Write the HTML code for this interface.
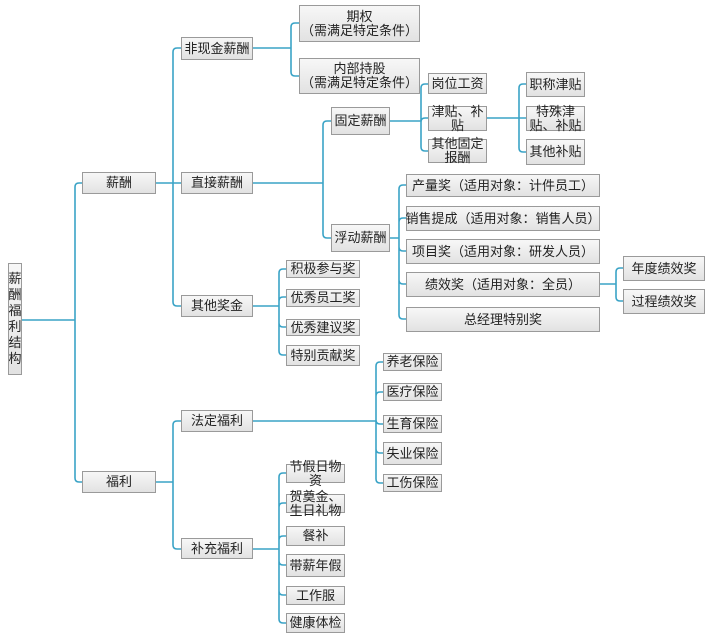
<!DOCTYPE html>
<html><head><meta charset="utf-8"><style>
body{margin:0;width:710px;height:637px;background:#fff;position:relative;overflow:hidden;font-family:"Liberation Sans","Noto Sans CJK SC",sans-serif;}
.b{position:absolute;box-sizing:border-box;border:1px solid #9a9a9a;background:linear-gradient(#f7f7f7,#e2e2e2);font-size:13px;color:#222;display:flex;align-items:center;justify-content:center;text-align:center;line-height:14px;overflow:visible;white-space:nowrap;}
svg{position:absolute;left:0;top:0;}
</style></head><body>
<svg id="s" width="710" height="637"></svg>
<div class="b" style="left:8px;top:263px;width:14px;height:112px;white-space:normal;line-height:16px;font-size:13px;padding:0">薪<br>酬<br>福<br>利<br>结<br>构</div>
<div class="b" style="left:82px;top:172px;width:74px;height:22px">薪酬</div>
<div class="b" style="left:82px;top:471px;width:74px;height:22px">福利</div>
<div class="b" style="left:181px;top:37px;width:72px;height:23px">非现金薪酬</div>
<div class="b" style="left:181px;top:172px;width:72px;height:22px">直接薪酬</div>
<div class="b" style="left:181px;top:295px;width:72px;height:22px">其他奖金</div>
<div class="b" style="left:181px;top:410px;width:72px;height:22px">法定福利</div>
<div class="b" style="left:181px;top:538px;width:72px;height:21px">补充福利</div>
<div class="b" style="left:299px;top:5px;width:121px;height:37px">期权<br>（需满足特定条件）</div>
<div class="b" style="left:299px;top:58px;width:121px;height:36px">内部持股<br>（需满足特定条件）</div>
<div class="b" style="left:331px;top:107px;width:59px;height:28px">固定薪酬</div>
<div class="b" style="left:331px;top:224px;width:59px;height:28px">浮动薪酬</div>
<div class="b" style="left:428px;top:73px;width:59px;height:21px">岗位工资</div>
<div class="b" style="left:428px;top:106px;width:59px;height:25px">津贴、补<br>贴</div>
<div class="b" style="left:428px;top:139px;width:59px;height:24px">其他固定<br>报酬</div>
<div class="b" style="left:526px;top:72px;width:59px;height:25px">职称津贴</div>
<div class="b" style="left:526px;top:106px;width:59px;height:25px">特殊津<br>贴、补贴</div>
<div class="b" style="left:526px;top:139px;width:59px;height:26px">其他补贴</div>
<div class="b" style="left:406px;top:174px;width:194px;height:23px">产量奖（适用对象：计件员工）</div>
<div class="b" style="left:406px;top:206px;width:194px;height:25px">销售提成（适用对象：销售人员）</div>
<div class="b" style="left:406px;top:239px;width:194px;height:25px">项目奖（适用对象：研发人员）</div>
<div class="b" style="left:406px;top:272px;width:194px;height:25px">绩效奖（适用对象：全员）</div>
<div class="b" style="left:406px;top:307px;width:194px;height:25px">总经理特别奖</div>
<div class="b" style="left:623px;top:256px;width:82px;height:25px">年度绩效奖</div>
<div class="b" style="left:623px;top:289px;width:82px;height:25px">过程绩效奖</div>
<div class="b" style="left:286px;top:260px;width:74px;height:18px">积极参与奖</div>
<div class="b" style="left:286px;top:289px;width:74px;height:18px">优秀员工奖</div>
<div class="b" style="left:286px;top:319px;width:74px;height:17px">优秀建议奖</div>
<div class="b" style="left:286px;top:345px;width:74px;height:21px">特别贡献奖</div>
<div class="b" style="left:383px;top:353px;width:59px;height:18px">养老保险</div>
<div class="b" style="left:383px;top:383px;width:59px;height:18px">医疗保险</div>
<div class="b" style="left:383px;top:415px;width:59px;height:18px">生育保险</div>
<div class="b" style="left:383px;top:442px;width:59px;height:23px">失业保险</div>
<div class="b" style="left:383px;top:474px;width:59px;height:18px">工伤保险</div>
<div class="b" style="left:286px;top:464px;width:59px;height:19px">节假日物<br>资</div>
<div class="b" style="left:286px;top:494px;width:59px;height:19px">贺奠金、<br>生日礼物</div>
<div class="b" style="left:286px;top:526px;width:59px;height:20px">餐补</div>
<div class="b" style="left:286px;top:554px;width:59px;height:23px">带薪年假</div>
<div class="b" style="left:286px;top:586px;width:59px;height:19px">工作服</div>
<div class="b" style="left:286px;top:613px;width:59px;height:20px">健康体检</div>
<script>
var G=[[22,320,75,82,[183,482]],[156,183,173,181,[48,183,306]],[156,482,173,181,[421,549]],
[253,48,291,299,[23,76]],[253,183,323,331,[121,238]],[390,121,421,428,[84,118,151]],
[487,118,519,526,[84,118,152]],[390,238,399,406,[185,218,251,284,319]],[600,284,616,623,[268,301]],
[253,306,279,286,[269,297,327,355]],[253,421,376,383,[362,392,424,453,483]],[253,549,279,286,[473,503,536,565,595,623]]];
var d='';
G.forEach(function(g){var pr=g[0],py=g[1],bx=g[2],cl=g[3];d+='M'+pr+' '+py+'H'+bx;
g[4].forEach(function(cy){var r=4;if(Math.abs(cy-py)<2){d+='M'+bx+' '+cy+'H'+cl;}else{var s=cy<py?1:-1;
d+='M'+bx+' '+py+'V'+(cy+s*r)+'Q'+bx+' '+cy+' '+(bx+r)+' '+cy+'H'+cl;}});});
document.getElementById('s').innerHTML='<path d="'+d+'" fill="none" stroke="#3aa3c6" stroke-width="1.6"/>';
</script>
</body></html>
